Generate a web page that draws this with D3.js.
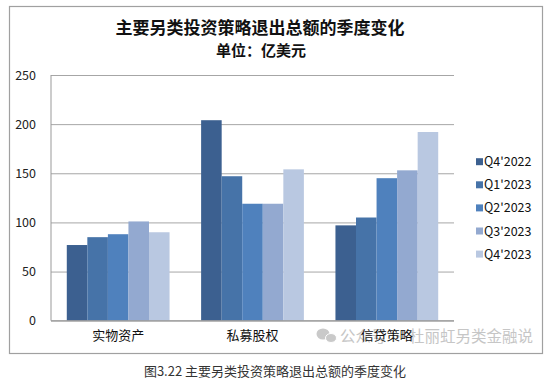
<!DOCTYPE html>
<html><head><meta charset="utf-8">
<script src="https://cdn.jsdelivr.net/npm/d3@7"></script>
<style>
body{margin:0;background:#fff;}
text{font-family:"Noto Sans CJK SC","Noto Sans",sans-serif;}
</style>
</head><body>
<svg id="c" width="554" height="382"></svg>
<script>
const categories = ["实物资产", "私募股权", "信贷策略"];
const seriesNames = ["Q4'2022", "Q1'2023", "Q2'2023", "Q3'2023", "Q4'2023"];
const q4_2022 = [77, 204, 97];
const q1_2023 = [85, 147, 105];
const q2_2023 = [88, 119, 145];
const q3_2023 = [101, 119, 153];
const q4_2023 = [90, 154, 192];
const yTicks = [0, 50, 100, 150, 200, 250];
const colors = ["#3c6090", "#4673a8", "#4f81bd", "#93a9d0", "#b9c8e1"];

const seriesValues = [q4_2022, q1_2023, q2_2023, q3_2023, q4_2023];
const svg = d3.select("#c");

// outer frame
svg.append("rect").attr("x", 9.5).attr("y", 6.5).attr("width", 533).attr("height", 347)
  .attr("fill", "#fff").attr("stroke", "#a0a0a0").attr("stroke-width", 1.2);

// titles
svg.append("text").attr("x", 260).attr("y", 34).attr("text-anchor", "middle")
  .attr("font-size", 17).attr("font-weight", "bold").attr("fill", "#111")
  .text("主要另类投资策略退出总额的季度变化");
svg.append("text").attr("x", 261).attr("y", 56).attr("text-anchor", "middle")
  .attr("font-size", 15).attr("font-weight", "bold").attr("fill", "#111")
  .text("单位：亿美元");

const pL = 51, pR = 454, pT = 75, pB = 320.7;
const y = d3.scaleLinear().domain([0, 250]).range([pB, pT]);
const x0 = d3.scaleBand().domain(categories).range([pL, pR]).paddingInner(0.235).paddingOuter(0.1175);
const x1 = d3.scaleBand().domain(seriesNames).range([0, x0.bandwidth()]);

// gridlines
const yAxis = d3.axisLeft(y).tickValues(yTicks).tickSize(-(pR - pL)).tickPadding(15);
const gy = svg.append("g").attr("transform", `translate(${pL},0)`).call(yAxis);
gy.select(".domain").remove();
gy.selectAll(".tick line").attr("stroke", "#a6a6a6").attr("stroke-width", 1);
gy.selectAll(".tick text").attr("font-size", 12.5).attr("fill", "#222")
  .attr("font-family", "'Liberation Sans','Noto Sans',sans-serif");

// watermark
const wm = svg.append("g").attr("fill", "#c9c9c9");
wm.append("ellipse").attr("cx", 323).attr("cy", 334).attr("rx", 6.5).attr("ry", 5.5);
wm.append("ellipse").attr("cx", 331).attr("cy", 338).attr("rx", 5.5).attr("ry", 4.5).attr("stroke", "#fff").attr("stroke-width", 1);
wm.append("text").attr("x", 340).attr("y", 342).attr("font-size", 15.5).attr("fill", "#c6c6c6")
  .text("公众号 · 杜丽虹另类金融说");

// bars
const groups = svg.append("g").selectAll("g").data(categories).join("g")
  .attr("transform", d => `translate(${x0(d)},0)`);
groups.selectAll("rect").data((c, i) => seriesNames.map((s, j) => ({s, v: seriesValues[j][i], j})))
  .join("rect")
  .attr("x", d => x1(d.s)).attr("width", x1.bandwidth())
  .attr("y", d => y(d.v)).attr("height", d => y(0) - y(d.v))
  .attr("fill", d => colors[d.j]);

// axes lines
svg.append("line").attr("x1", pL).attr("x2", pL).attr("y1", pT).attr("y2", pB)
  .attr("stroke", "#999");
svg.append("line").attr("x1", pL).attr("x2", pR).attr("y1", pB).attr("y2", pB)
  .attr("stroke", "#999");

// category labels
const xAxis = d3.axisBottom(x0).tickSize(0).tickPadding(10);
const gx = svg.append("g").attr("transform", `translate(0,${pB})`).call(xAxis);
gx.select(".domain").remove();
gx.selectAll(".tick text").attr("font-size", 13).attr("fill", "#111");

// legend
const leg = svg.append("g").selectAll("g").data(seriesNames).join("g")
  .attr("transform", (d, i) => `translate(476,${161.7 + i * 23.1})`);
leg.append("rect").attr("x", 0).attr("y", -3.5).attr("width", 7).attr("height", 7)
  .attr("fill", (d, i) => colors[i]);
leg.append("text").attr("x", 8).attr("y", 4.5).attr("font-size", 12.5).attr("fill", "#111")
  .attr("font-family", "'Liberation Sans','Noto Sans',sans-serif").text(d => d);

// caption
svg.append("text").attr("x", 275).attr("y", 376).attr("text-anchor", "middle")
  .attr("font-size", 13).attr("fill", "#333")
  .text("图3.22 主要另类投资策略退出总额的季度变化");
</script>
</body></html>
